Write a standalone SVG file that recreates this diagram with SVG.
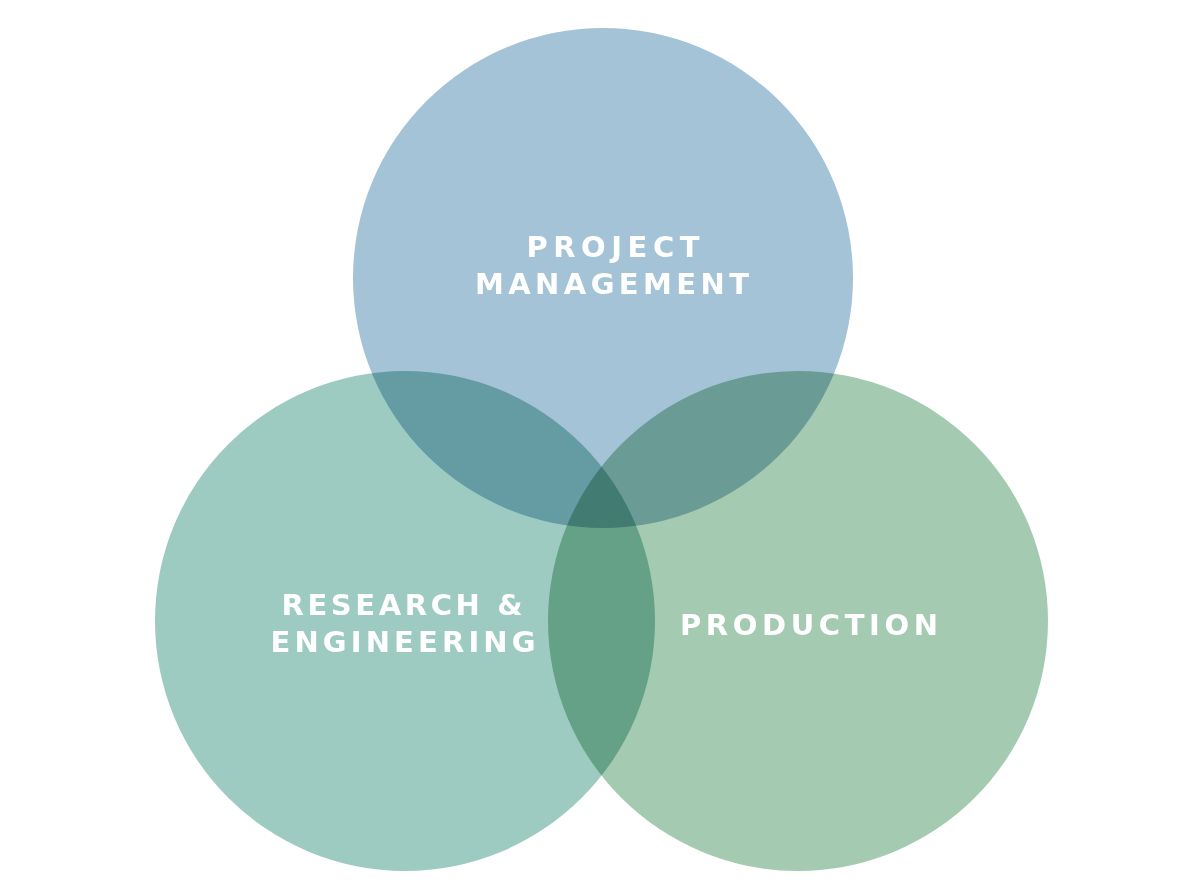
<svg xmlns="http://www.w3.org/2000/svg" width="1200" height="895" viewBox="0 0 1200 895">
  <style>
    .c { mix-blend-mode: multiply; }
    .t { font-family: "DejaVu Sans", "Liberation Sans", Arial, sans-serif; font-weight: bold; font-size: 29px; fill: #ffffff; text-anchor: middle; }
  </style>
  <rect x="0" y="0" width="1200" height="895" fill="#ffffff"/>
  <g id="circles" style="isolation:isolate">
    <g id="node-project-management">
      <circle class="c" cx="603" cy="278" r="250" fill="#a4c3d7"/>
    </g>
    <g id="node-research-engineering">
      <circle class="c" cx="405" cy="621" r="250" fill="#9dcbc2"/>
    </g>
    <g id="node-production">
      <circle class="c" cx="798" cy="621" r="250" fill="#a4cbb1"/>
    </g>
  </g>
  <g id="labels">
    <text class="t" x="613" y="257" textLength="173" lengthAdjust="spacing">PROJECT</text>
    <text class="t" x="612" y="294" textLength="274" lengthAdjust="spacing">MANAGEMENT</text>
    <text class="t" x="402" y="615" textLength="241" lengthAdjust="spacing">RESEARCH &amp;</text>
    <text class="t" x="403" y="652" textLength="265" lengthAdjust="spacing">ENGINEERING</text>
    <text class="t" x="809" y="635" textLength="258" lengthAdjust="spacing">PRODUCTION</text>
  </g>
  <g id="connectors"></g>
</svg>
